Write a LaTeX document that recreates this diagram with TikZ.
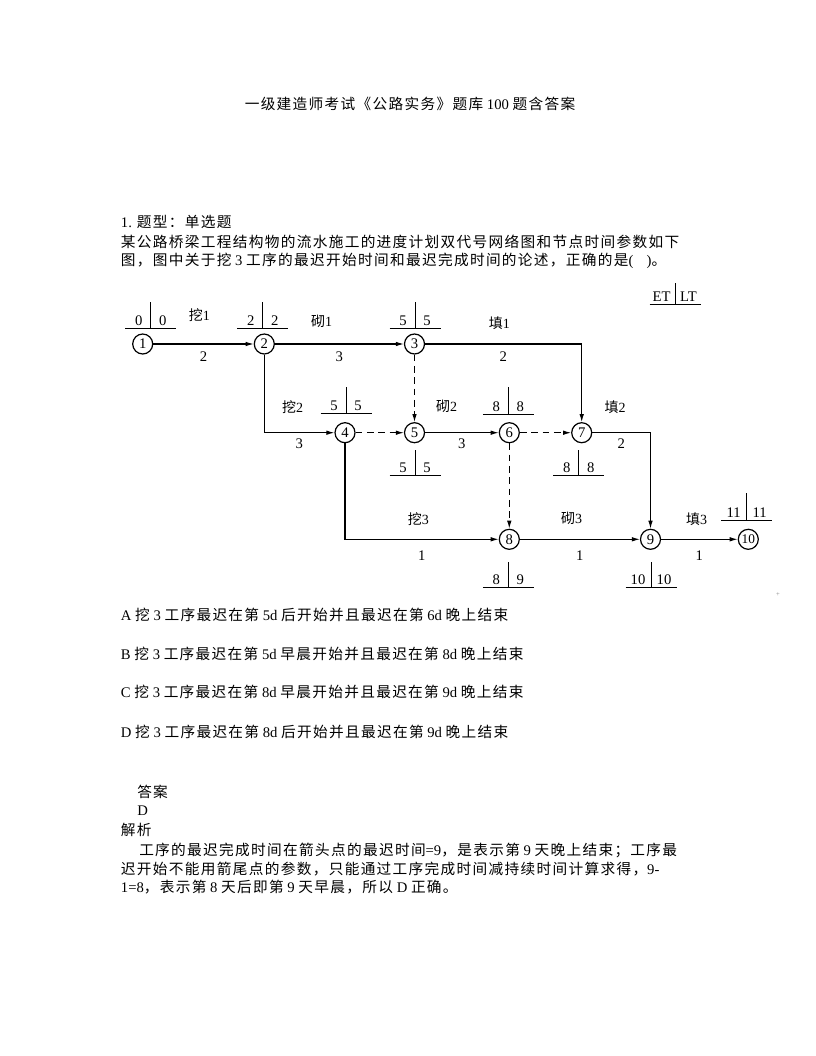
\documentclass[tikz,border=0pt]{standalone}
\usepackage{fontspec}
\setmainfont{Liberation Serif}
\newfontfamily\zhfont[LetterSpace=9]{Noto Sans CJK SC}
\usetikzlibrary{calc, positioning, arrows.meta}

% CJK characters go to the CJK face, the rest stays in Times
\XeTeXinterchartokenstate=1
\newXeTeXintercharclass\zhclass
\newcount\zhcnt
\zhcnt="3000
\loop \XeTeXcharclass\zhcnt=\zhclass \ifnum\zhcnt<"303F \advance\zhcnt by 1 \repeat
\zhcnt="4E00
\loop \XeTeXcharclass\zhcnt=\zhclass \ifnum\zhcnt<"9FFF \advance\zhcnt by 1 \repeat
\zhcnt="FF00
\loop \XeTeXcharclass\zhcnt=\zhclass \ifnum\zhcnt<"FFEF \advance\zhcnt by 1 \repeat
\XeTeXinterchartoks 0 \zhclass = {\zhfont}
\XeTeXinterchartoks 4095 \zhclass = {\zhfont}
\XeTeXinterchartoks \zhclass 0 = {\rmfamily}
\XeTeXinterchartoks \zhclass 4095 = {\rmfamily}
\XeTeXinterchartoks 4095 0 = {\rmfamily}

\begin{document}
\begin{tikzpicture}[
    x=0.75pt, y=-0.75pt,
    >={Latex[length=6pt,width=3.4pt]},
    nd/.style={draw, circle, minimum size=15pt, inner sep=0pt, line width=0.9pt, font=\fontsize{11}{11}\selectfont},
    arr/.style={->, line width=0.8pt},
    dsh/.style={dash pattern=on 5pt off 3.5pt},
    wt/.style={midway, below=5.5pt, inner sep=0pt, font=\fontsize{11}{11}\selectfont},
    act/.style={inner sep=0pt, font=\fontsize{10.5}{10.5}\selectfont},
    tline/.style={line width=0.7pt},
    tnum/.style={inner sep=0pt, font=\fontsize{11}{11}\selectfont},
    txt/.style={anchor=base west, inner sep=0pt, font=\fontsize{11}{13}\selectfont}
]

    % page
    \fill[white] (0,0) rectangle (816,1056);
    \useasboundingbox (0,0) rectangle (816,1056);

    % Heading and question
    \node[txt, anchor=base] (title) at (410,109.5) {一级建造师考试《公路实务》题库 100 题含答案};
    \node[txt] (qtype) at (120.7,227) {1. 题型：单选题};
    \node[txt] (q1) at (120.7,247) {某公路桥梁工程结构物的流水施工的进度计划双代号网络图和节点时间参数如下};
    \node[txt] (q2) at (120.7,265.5) {图，图中关于挖 3 工序的最迟开始时间和最迟完成时间的论述，正确的是(\hspace{0.9em})。};

    % Events
    \node[nd] (n1) at (142.7,344) {1};
    \node[nd] (n2) at (264.3,344) {2};
    \node[nd] (n3) at (414.5,344) {3};
    \node[nd] (n4) at (345,432.7) {4};
    \node[nd] (n5) at (414.5,432.7) {5};
    \node[nd] (n6) at (509.3,432.7) {6};
    \node[nd] (n7) at (581.7,432.7) {7};
    \node[nd] (n8) at (509.3,539.3) {8};
    \node[nd] (n9) at (650.5,539.3) {9};
    \node[nd, font=\fontsize{10}{10}\selectfont] (n10) at (748.3,539.3) {10};

    % Activities
    \draw[arr] (n1) -- node[wt] (w12) {2} (n2);
    \draw[arr] (n2) -- node[wt] (w23) {3} (n3);
    \draw[arr] (n3) -| node[wt, pos=0.25] (w37) {2} (n7);
    \draw[arr] (n2) |- node[wt, pos=0.75, below=4pt] (w24) {3} (n4);
    \draw[arr, dsh] (n3) -- (n5);
    \draw[arr, dsh] (n4) -- (n5);
    \draw[arr] (n5) -- node[wt, below=4pt] (w56) {3} (n6);
    \draw[arr, dsh] (n6) -- (n7);
    \draw[arr] (n7) -| node[wt, pos=0.25, below=4pt] (w79) {2} (n9);
    \draw[arr, dsh] (n6) -- (n8);
    \draw[arr] (n4) |- node[wt, pos=0.75, below=8pt] (w48) {1} (n8);
    \draw[arr] (n8) -- node[wt, below=8pt] (w89) {1} (n9);
    \draw[arr] (n9) -- node[wt, below=8pt] (w910) {1} (n10);

    \node[act] (a1) at (199.3,315) {挖1};
    \node[act] (b1) at (321.7,321.7) {砌1};
    \node[act] (c1) at (499.3,322.7) {填1};
    \node[act] (a2) at (292.7,406.7) {挖2};
    \node[act] (b2) at (446.7,406.7) {砌2};
    \node[act] (c2) at (615,406.7) {填2};
    \node[act] (a3) at (418.3,519.3) {挖3};
    \node[act] (b3) at (571.7,518.3) {砌3};
    \node[act] (c3) at (696.7,519.3) {填3};

    % Event times ET | LT
    \foreach \nm/\px/\py/\h/\dx/\et/\lt in {
        t1/150.7/328.3/26/12/0/0, t2/262.7/328.3/26/12/2/2, t3/415/328.3/26/12/5/5,
        t4/346/413.3/26/12/5/5, t5/415/475.7/26/12/5/5, t6/508.3/414/27/12/8/8,
        t7/578.7/475.7/26/12/8/8, t8/508.3/587.7/26/12/8/9, t9/651/587.7/26/13/10/10,
        t10/746.7/520/27/13/11/11, key/675/304/21/13.5/ET/LT} {
        \coordinate (\nm) at (\px,\py);
        \draw[tline] ($(\nm)+(-25.5,0)$) -- ($(\nm)+(25.5,0)$);
        \draw[tline] (\nm) -- ++(0,-\h);
        \node[tnum, anchor=base] (\nm-et) at ($(\nm)+(-\dx,-3)$) {\et};
        \node[tnum, anchor=base] (\nm-lt) at ($(\nm)+(\dx,-3)$) {\lt};
    }

    \node[inner sep=0pt, font=\tiny, gray] (mark) at (778,595) {+};

    % Choices
    \node[txt] (optA) at (120.7,620.5) {A 挖 3 工序最迟在第 5d 后开始并且最迟在第 6d 晚上结束};
    \node[txt] (optB) at (120.7,659) {B 挖 3 工序最迟在第 5d 早晨开始并且最迟在第 8d 晚上结束};
    \node[txt] (optC) at (120.7,697) {C 挖 3 工序最迟在第 8d 早晨开始并且最迟在第 9d 晚上结束};
    \node[txt] (optD) at (120.7,737) {D 挖 3 工序最迟在第 8d 后开始并且最迟在第 9d 晚上结束};

    % Answer
    \node[txt] (ans) at (137,797) {答案};
    \node[txt] (ansD) at (137,815.5) {D};
    \node[txt] (expl) at (120.7,835.5) {解析};
    \node[txt] (e1) at (139,855.5) {工序的最迟完成时间在箭头点的最迟时间=9，是表示第 9 天晚上结束；工序最};
    \node[txt] (e2) at (120.7,874) {迟开始不能用箭尾点的参数，只能通过工序完成时间减持续时间计算求得，9-};
    \node[txt] (e3) at (120.7,892) {1=8，表示第 8 天后即第 9 天早晨，所以 D 正确。};

\end{tikzpicture}
\end{document}
